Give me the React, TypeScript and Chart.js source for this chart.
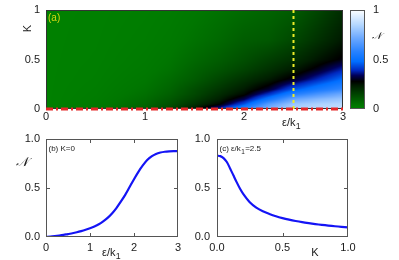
import React, { useEffect, useRef } from "react";
import { Chart, registerables } from "chart.js";

Chart.register(...registerables);

// ---------------- DATA ----------------
// Heat map (a): N(eps/k1, K) read on a grid (rows = K, columns = eps/k1)
const heatEps = [0, 0.5, 1, 1.25, 1.5, 1.75, 2, 2.25, 2.5, 2.75, 3];
const heatK = [0, 0.05, 0.1, 0.15, 0.2, 0.3, 0.4, 0.5, 0.7, 1.0];
const heatN = [
  [0, 0.03, 0.09, 0.145, 0.24, 0.395, 0.59, 0.76, 0.84, 0.866, 0.877],
  [0, 0.025, 0.075, 0.12, 0.19, 0.27, 0.44, 0.67, 0.8, 0.835, 0.855],
  [0, 0.02, 0.065, 0.105, 0.16, 0.225, 0.33, 0.52, 0.7, 0.76, 0.8],
  [0, 0.017, 0.055, 0.09, 0.14, 0.2, 0.265, 0.4, 0.56, 0.645, 0.72],
  [0, 0.015, 0.048, 0.08, 0.13, 0.18, 0.235, 0.31, 0.44, 0.53, 0.6],
  [0, 0.011, 0.038, 0.065, 0.1, 0.145, 0.19, 0.235, 0.3, 0.39, 0.48],
  [0, 0.009, 0.03, 0.05, 0.085, 0.115, 0.15, 0.19, 0.235, 0.3, 0.38],
  [0, 0.007, 0.025, 0.042, 0.07, 0.095, 0.125, 0.16, 0.193, 0.245, 0.29],
  [0, 0.005, 0.018, 0.03, 0.05, 0.07, 0.095, 0.105, 0.141, 0.19, 0.24],
  [0, 0.003, 0.012, 0.02, 0.035, 0.05, 0.065, 0.08, 0.098, 0.145, 0.2],
];
const cutKValue = 0; // red dash-dot cut (K = 0)
const cutEpsValue = 2.5; // yellow dotted cut (eps/k1 = 2.5)

// Panel (b): K = 0
const curveBEps = [
  0, 0.1, 0.2, 0.3, 0.4, 0.5, 0.6, 0.7, 0.8, 0.9, 1.0, 1.1, 1.2, 1.3, 1.4, 1.5,
  1.6, 1.7, 1.8, 1.9, 2.0, 2.1, 2.2, 2.3, 2.4, 2.5, 2.6, 2.7, 2.8, 2.9, 3.0,
];
const curveBN = [
  0.0, 0.003, 0.008, 0.014, 0.021, 0.03, 0.038, 0.048, 0.06, 0.074, 0.09, 0.108,
  0.13, 0.16, 0.195, 0.24, 0.295, 0.36, 0.43, 0.51, 0.59, 0.665, 0.73, 0.785,
  0.823, 0.848, 0.862, 0.87, 0.874, 0.876, 0.877,
];

// Panel (c): eps/k1 = 2.5
const curveCK = [
  0, 0.025, 0.05, 0.075, 0.1, 0.125, 0.15, 0.175, 0.2, 0.25, 0.3, 0.35, 0.4,
  0.45, 0.5, 0.55, 0.6, 0.65, 0.7, 0.75, 0.8, 0.85, 0.9, 0.95, 1.0,
];
const curveCN = [
  0.83, 0.825, 0.805, 0.765, 0.7, 0.63, 0.56, 0.495, 0.44, 0.355, 0.3, 0.262,
  0.235, 0.212, 0.193, 0.177, 0.163, 0.151, 0.141, 0.132, 0.124, 0.117, 0.11,
  0.104, 0.098,
];

// Tick values
const topEpsTicks = [0, 1, 2, 3];
const topKTicks = [0, 0.5, 1];
const cbTicks = [0, 0.5, 1];
const bEpsTicks = [0, 1, 2, 3];
const nTicks = [0, 0.5, 1];
const cKTicks = [0, 0.5, 1];

// ---------------- STYLE ----------------
const FONT = '"Liberation Sans", Arial, sans-serif';
const MATHFONT = '"DejaVu Serif", "DejaVu Sans", serif';
const TXT = "#1a1a1a";
const FRAME = "#555";
const CURVE = "rgb(20,20,245)";
const cmapStops: [number, number, number, number][] = [
  [0, 0, 128, 0],
  [0.04, 0, 118, 0],
  [0.14, 0, 72, 0],
  [0.23, 0, 30, 0],
  [0.28, 0, 0, 0],
  [0.34, 0, 0, 90],
  [0.39, 0, 40, 190],
  [0.48, 0, 110, 255],
  [0.58, 40, 130, 255],
  [0.72, 110, 170, 255],
  [0.85, 180, 215, 255],
  [1.0, 255, 255, 255],
];

function cmap(v: number): [number, number, number] {
  const t = Math.max(0, Math.min(1, v));
  for (let i = 0; i < cmapStops.length - 1; i++) {
    const a = cmapStops[i];
    const b = cmapStops[i + 1];
    if (t <= b[0]) {
      const f = (t - a[0]) / (b[0] - a[0]);
      return [a[1] + f * (b[1] - a[1]), a[2] + f * (b[2] - a[2]), a[3] + f * (b[3] - a[3])];
    }
  }
  const l = cmapStops[cmapStops.length - 1];
  return [l[1], l[2], l[3]];
}

function findCell(arr: number[], v: number): [number, number] {
  if (v <= arr[0]) return [0, 0];
  for (let i = 0; i < arr.length - 1; i++) {
    if (v <= arr[i + 1]) return [i, (v - arr[i]) / (arr[i + 1] - arr[i])];
  }
  return [arr.length - 2, 1];
}

function sampleHeat(e: number, k: number): number {
  const [i, fx] = findCell(heatEps, e);
  const [j, fy] = findCell(heatK, k);
  const a = heatN[j][i];
  const b = heatN[j][i + 1];
  const c = heatN[j + 1][i];
  const d = heatN[j + 1][i + 1];
  return (a * (1 - fx) + b * fx) * (1 - fy) + (c * (1 - fx) + d * fx) * fy;
}

const fixTicks = (vals: number[]) => (scale: any) => {
  scale.ticks = vals.map((v) => ({ value: v }));
};

function drawEpsK(ctx: CanvasRenderingContext2D, x: number, base: number, size: number, suffix = "") {
  ctx.textAlign = "left";
  ctx.textBaseline = "alphabetic";
  ctx.font = `${size}px ${FONT}`;
  ctx.fillText("ε/k", x, base);
  const w = ctx.measureText("ε/k").width;
  ctx.font = `${size * 0.8}px ${FONT}`;
  ctx.fillText("1", x + w + 0.3, base + 3);
  const w2 = ctx.measureText("1").width;
  if (suffix) {
    ctx.font = `${size}px ${FONT}`;
    ctx.fillText(suffix, x + w + w2 + 0.8, base);
  }
}

function drawFrameWithTicks(chart: any, xt: number[], yt: number[]) {
  const { ctx, chartArea } = chart;
  const { left, right, top, bottom } = chartArea;
  const xs = chart.scales.x;
  const ys = chart.scales.y;
  ctx.save();
  ctx.strokeStyle = FRAME;
  ctx.lineWidth = 1;
  ctx.strokeRect(left + 0.5, top + 0.5, right - left - 1, bottom - top - 1);
  ctx.beginPath();
  const L = 4;
  xt.forEach((v) => {
    if (v <= xs.min || v >= xs.max) return;
    const p = Math.round(xs.getPixelForValue(v)) + 0.5;
    ctx.moveTo(p, bottom);
    ctx.lineTo(p, bottom - L);
    ctx.moveTo(p, top);
    ctx.lineTo(p, top + L);
  });
  yt.forEach((v) => {
    if (v <= ys.min || v >= ys.max) return;
    const p = Math.round(ys.getPixelForValue(v)) + 0.5;
    ctx.moveTo(left, p);
    ctx.lineTo(left + L, p);
    ctx.moveTo(right, p);
    ctx.lineTo(right - L, p);
  });
  ctx.stroke();
  ctx.restore();
}

const tickFont = { family: FONT, size: 11 };

function axis(min: number, max: number, ticks: number[], fmt: (v: number) => string, pos: string, size: number, pad: number) {
  return {
    type: "linear",
    position: pos,
    min,
    max,
    afterBuildTicks: fixTicks(ticks),
    afterFit: (s: any) => {
      if (pos === "bottom") s.height = size;
      else s.width = size;
      s.paddingTop = 0;
      s.paddingBottom = 0;
      s.paddingLeft = 0;
      s.paddingRight = 0;
    },
    grid: { display: false, drawTicks: false },
    border: { display: false },
    ticks: {
      padding: pad,
      color: TXT,
      font: tickFont,
      autoSkip: false,
      maxRotation: 0,
      callback: (v: any) => fmt(Number(v)),
    },
  };
}

const f0 = (v: number) => (v === 0.5 ? "0.5" : String(v));
const f1 = (v: number) => v.toFixed(1);

export default function App() {
  const topRef = useRef<HTMLCanvasElement>(null);
  const blRef = useRef<HTMLCanvasElement>(null);
  const brRef = useRef<HTMLCanvasElement>(null);

  useEffect(() => {
    const charts: Chart[] = [];

    // ---------- Top heat map ----------
    const heatPlugin = {
      id: "heatmap",
      beforeDatasetsDraw(chart: any) {
        const { ctx, chartArea } = chart;
        const { left, right, top, bottom } = chartArea;
        const xs = chart.scales.x;
        const ys = chart.scales.y;
        const w = Math.round(right - left);
        const h = Math.round(bottom - top);
        const off = document.createElement("canvas");
        off.width = w;
        off.height = h;
        const octx = off.getContext("2d")!;
        const img = octx.createImageData(w, h);
        for (let py = 0; py < h; py++) {
          const k = ys.getValueForPixel(top + py + 0.5);
          for (let px = 0; px < w; px++) {
            const e = xs.getValueForPixel(left + px + 0.5);
            const [r, g, b] = cmap(sampleHeat(e, k));
            const o = (py * w + px) * 4;
            img.data[o] = r;
            img.data[o + 1] = g;
            img.data[o + 2] = b;
            img.data[o + 3] = 255;
          }
        }
        octx.putImageData(img, 0, 0);
        ctx.drawImage(off, left, top);
        ctx.save();
        ctx.strokeStyle = "#333";
        ctx.lineWidth = 1;
        ctx.strokeRect(left + 0.5, top + 0.5, w - 1, h - 1);
        ctx.restore();

        // colour bar
        const cb = chart.scales.cb;
        const cx0 = 350;
        const cw = 15;
        for (let py = Math.round(cb.top); py < Math.round(cb.bottom); py++) {
          const v = cb.getValueForPixel(py + 0.5);
          const [r, g, b] = cmap(v);
          ctx.fillStyle = `rgb(${r},${g},${b})`;
          ctx.fillRect(cx0, py, cw, 1);
        }
        ctx.save();
        ctx.strokeStyle = FRAME;
        ctx.strokeRect(cx0 + 0.5, Math.round(cb.top) + 0.5, cw - 1, Math.round(cb.bottom - cb.top) - 1);
        ctx.restore();
      },
      afterDraw(chart: any) {
        const { ctx } = chart;
        ctx.save();
        ctx.fillStyle = "rgb(215,215,20)";
        ctx.font = `10px ${FONT}`;
        ctx.textAlign = "left";
        ctx.textBaseline = "alphabetic";
        ctx.fillText("(a)", 48, 20.5);
        ctx.fillStyle = TXT;
        // y title K (rotated)
        ctx.save();
        ctx.translate(28, 28.5);
        ctx.rotate(-Math.PI / 2);
        ctx.font = `11px ${FONT}`;
        ctx.textAlign = "center";
        ctx.textBaseline = "middle";
        ctx.fillText("K", 0, 0);
        ctx.restore();
        drawEpsK(ctx, 282, 126, 11);
        // colour-bar title
        ctx.font = `italic 10px ${MATHFONT}`;
        ctx.textAlign = "center";
        ctx.textBaseline = "middle";
        ctx.fillText("𝒩", 377, 36.5);
        ctx.restore();
      },
    };

    if (topRef.current) {
      charts.push(
        new Chart(topRef.current, {
          type: "scatter",
          data: {
            datasets: [
              {
                label: "K cut",
                data: [
                  { x: 0, y: cutKValue },
                  { x: 3, y: cutKValue },
                ],
                showLine: true,
                borderColor: "rgb(228,40,40)",
                borderWidth: 3,
                borderDash: [7, 3, 2, 3],
                pointRadius: 0,
                clip: false,
              } as any,
              {
                label: "eps cut",
                data: [
                  { x: cutEpsValue, y: 0 },
                  { x: cutEpsValue, y: 1 },
                ],
                showLine: true,
                borderColor: "rgb(235,235,40)",
                borderWidth: 2,
                borderDash: [3, 3],
                pointRadius: 0,
              } as any,
            ],
          },
          options: {
            responsive: false,
            animation: false,
            devicePixelRatio: 1,
            layout: { padding: { left: 0, right: 0, top: 10, bottom: 0 } },
            plugins: { legend: { display: false }, tooltip: { enabled: false } },
            scales: {
              x: axis(0, 3, topEpsTicks, (v) => String(v), "bottom", 21, 1),
              y: axis(0, 1, topKTicks, f0, "left", 46, 6),
              cb: axis(0, 1, cbTicks, f0, "right", 56, 30),
            } as any,
          },
          plugins: [heatPlugin],
        })
      );
    }

    // ---------- Bottom left (b) ----------
    const blPlugin = {
      id: "blDecor",
      afterDraw(chart: any) {
        drawFrameWithTicks(chart, bEpsTicks, nTicks);
        const { ctx } = chart;
        ctx.save();
        ctx.fillStyle = TXT;
        ctx.font = `8px ${FONT}`;
        ctx.textAlign = "left";
        ctx.textBaseline = "alphabetic";
        ctx.fillText("(b) K=0", 48.5, 20.5);
        drawEpsK(ctx, 102, 125.5, 11);
        ctx.font = `italic 13px ${MATHFONT}`;
        ctx.textAlign = "center";
        ctx.textBaseline = "middle";
        ctx.fillText("𝒩", 22, 33);
        ctx.restore();
      },
    };
    if (blRef.current) {
      charts.push(
        new Chart(blRef.current, {
          type: "scatter",
          data: {
            datasets: [
              {
                label: "K=0",
                data: curveBEps.map((e, i) => ({ x: e, y: curveBN[i] })),
                showLine: true,
                borderColor: CURVE,
                borderWidth: 2.2,
                pointRadius: 0,
                tension: 0.3,
              } as any,
            ],
          },
          options: {
            responsive: false,
            animation: false,
            devicePixelRatio: 1,
            layout: { padding: { left: 0, right: 7, top: 9, bottom: 0 } },
            plugins: { legend: { display: false }, tooltip: { enabled: false } },
            scales: {
              x: axis(0, 3, bEpsTicks, (v) => String(v), "bottom", 23, 4),
              y: axis(0, 1, nTicks, f1, "left", 46, 6),
            } as any,
          },
          plugins: [blPlugin],
        })
      );
    }

    // ---------- Bottom right (c) ----------
    const brPlugin = {
      id: "brDecor",
      afterDraw(chart: any) {
        drawFrameWithTicks(chart, cKTicks, nTicks);
        const { ctx } = chart;
        ctx.save();
        ctx.fillStyle = TXT;
        ctx.font = `8px ${FONT}`;
        ctx.textAlign = "left";
        ctx.textBaseline = "alphabetic";
        ctx.fillText("(c) ", 34.5, 20.5);
        const w = ctx.measureText("(c) ").width;
        drawEpsK(ctx, 34.5 + w, 20.5, 8, "=2.5");
        ctx.fillStyle = TXT;
        ctx.font = `11px ${FONT}`;
        ctx.textAlign = "center";
        ctx.fillText("K", 130, 125.5);
        ctx.restore();
      },
    };
    if (brRef.current) {
      charts.push(
        new Chart(brRef.current, {
          type: "scatter",
          data: {
            datasets: [
              {
                label: "eps=2.5",
                data: curveCK.map((k, i) => ({ x: k, y: curveCN[i] })),
                showLine: true,
                borderColor: CURVE,
                borderWidth: 2.2,
                pointRadius: 0,
                tension: 0.3,
              } as any,
            ],
          },
          options: {
            responsive: false,
            animation: false,
            devicePixelRatio: 1,
            layout: { padding: { left: 0, right: 51, top: 9, bottom: 0 } },
            plugins: { legend: { display: false }, tooltip: { enabled: false } },
            scales: {
              x: axis(0, 1, cKTicks, f1, "bottom", 23, 4),
              y: axis(0, 1, nTicks, f1, "left", 32, 7),
            } as any,
          },
          plugins: [brPlugin],
        })
      );
    }

    return () => {
      charts.forEach((c) => c.destroy());
    };
  }, []);

  const cs = (l: number, t: number, w: number, h: number): React.CSSProperties => ({
    position: "absolute",
    left: l,
    top: t,
    width: w,
    height: h,
  });

  return (
    <div style={{ position: "absolute", left: 0, top: 0, width: 399, height: 260, background: "#fff", overflow: "hidden" }}>
      <canvas ref={topRef} width={399} height={130} style={cs(0, 0, 399, 130)} />
      <canvas ref={blRef} width={185} height={130} style={cs(0, 130, 185, 130)} />
      <canvas ref={brRef} width={214} height={130} style={cs(185, 130, 214, 130)} />
    </div>
  );
}
